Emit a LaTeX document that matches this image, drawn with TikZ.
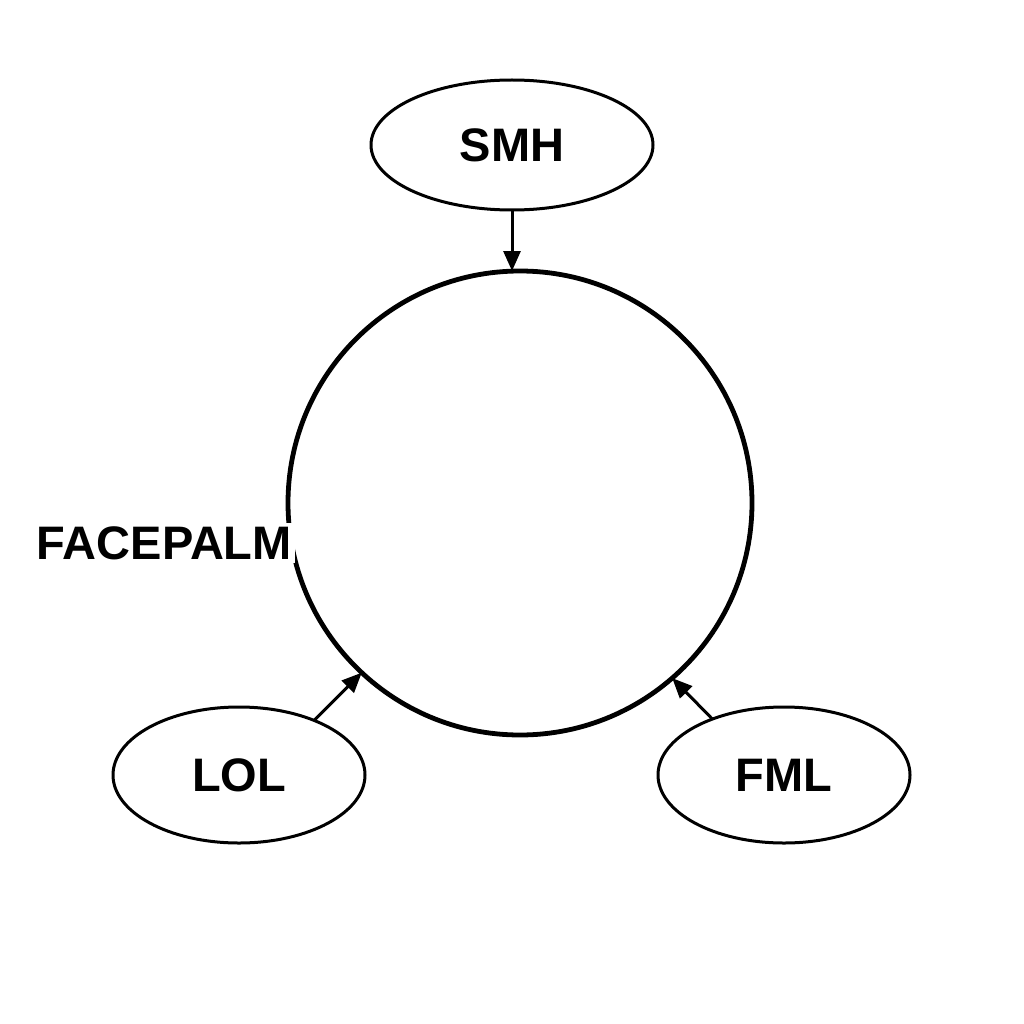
\documentclass[tikz,border=0pt]{standalone}
\usepackage{fontspec}
\setmainfont{Liberation Sans}
\usetikzlibrary{shapes.geometric,arrows.meta}
\begin{document}
\begin{tikzpicture}[x=1pt,y=-1pt,
  lbl/.style={font=\fontsize{47}{50}\selectfont\bfseries},
  oval/.style={ellipse,draw,line width=3pt,minimum width=252pt,minimum height=136pt,inner sep=0pt,outer sep=0pt,lbl},
  arr/.style={line width=3pt,-{Triangle[length=20pt,width=17pt]}}]
\useasboundingbox[fill=white] (0,0) rectangle (1024,1024);
\node[circle,draw,line width=4.8pt,minimum size=464pt,inner sep=0pt,outer sep=0pt] (c) at (520,503) {};
\node[oval,minimum width=282pt,minimum height=130pt] (smh) at (512,145) {SMH};
\node[oval] (lol) at (239,775) {LOL};
\node[oval] (fml) at (784,775) {FML};
\node[lbl,fill=white,anchor=east,inner sep=3pt] (fp) at (295,543) {FACEPALM};
\draw[arr] (smh.south) -- (smh.south |- c.north);
\draw[arr] (lol.36) -- (c.227);
\draw[arr] (fml.142) -- (c.311);
\end{tikzpicture}
\end{document}
